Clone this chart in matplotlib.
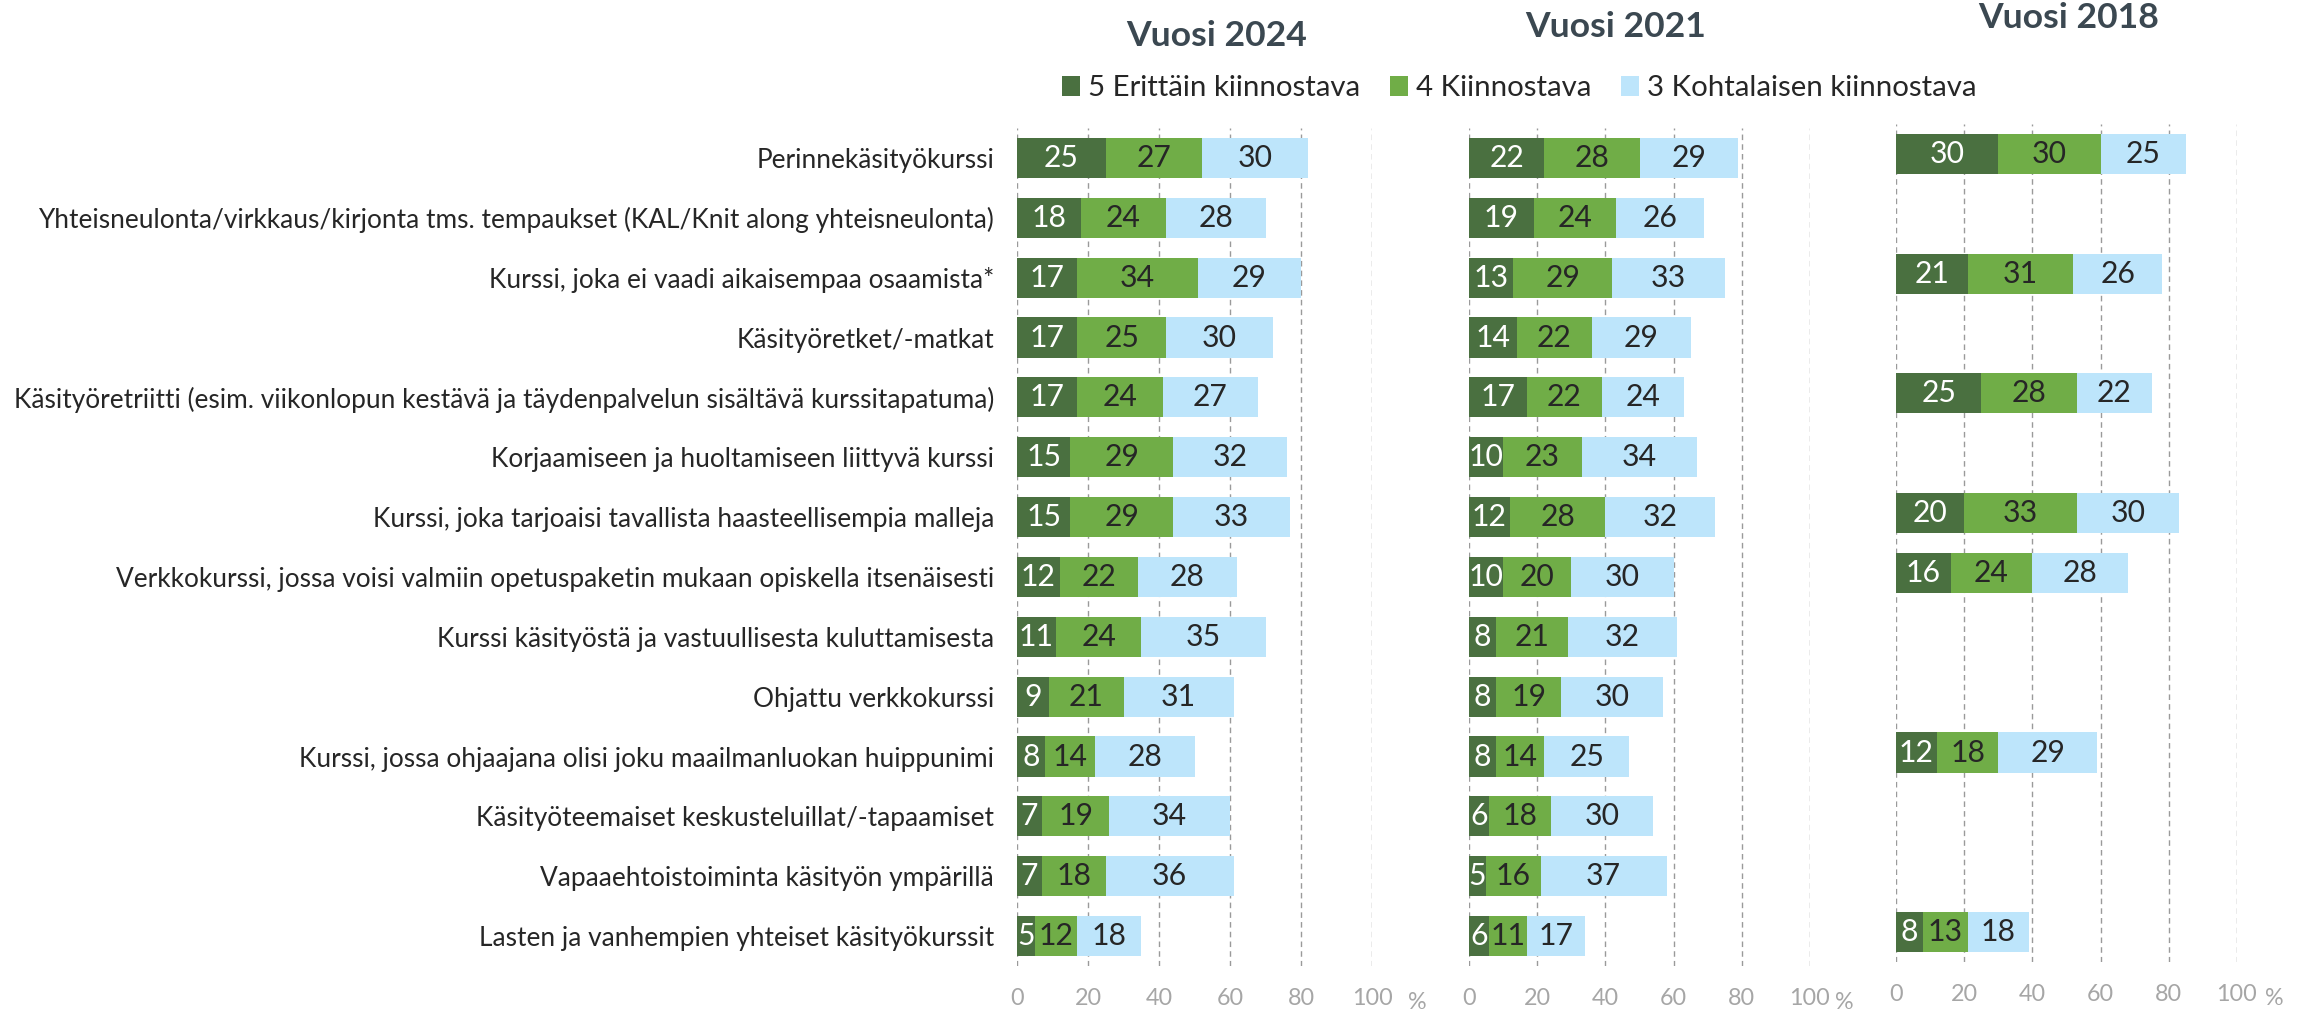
import matplotlib
matplotlib.use("Agg")
import matplotlib.pyplot as plt
from matplotlib.patches import Patch

plt.rcParams['font.family'] = ['Lato', 'DejaVu Sans']

# kategoriat ylhäältä alas
categories = [
    "Perinnekäsityökurssi",
    "Yhteisneulonta/virkkaus/kirjonta tms. tempaukset (KAL/Knit along yhteisneulonta)",
    "Kurssi, joka ei vaadi aikaisempaa osaamista*",
    "Käsityöretket/-matkat",
    "Käsityöretriitti (esim. viikonlopun kestävä ja täydenpalvelun sisältävä kurssitapatuma)",
    "Korjaamiseen ja huoltamiseen liittyvä kurssi",
    "Kurssi, joka tarjoaisi tavallista haasteellisempia malleja",
    "Verkkokurssi, jossa voisi valmiin opetuspaketin mukaan opiskella itsenäisesti",
    "Kurssi käsityöstä ja vastuullisesta kuluttamisesta",
    "Ohjattu verkkokurssi",
    "Kurssi, jossa ohjaajana olisi joku maailmanluokan huippunimi",
    "Käsityöteemaiset keskusteluillat/-tapaamiset",
    "Vapaaehtoistoiminta käsityön ympärillä",
    "Lasten ja vanhempien yhteiset käsityökurssit",
]

series_names = ["5 Erittäin kiinnostava", "4 Kiinnostava", "3 Kohtalaisen kiinnostava"]
xticks = [0, 20, 40, 60, 80, 100]

# vuosi 2024
v2024_5 = [25, 18, 17, 17, 17, 15, 15, 12, 11, 9, 8, 7, 7, 5]
v2024_4 = [27, 24, 34, 25, 24, 29, 29, 22, 24, 21, 14, 19, 18, 12]
v2024_3 = [30, 28, 29, 30, 27, 32, 33, 28, 35, 31, 28, 34, 36, 18]

# vuosi 2021
v2021_5 = [22, 19, 13, 14, 17, 10, 12, 10, 8, 8, 8, 6, 5, 6]
v2021_4 = [28, 24, 29, 22, 22, 23, 28, 20, 21, 19, 14, 18, 16, 11]
v2021_3 = [29, 26, 33, 29, 24, 34, 32, 30, 32, 30, 25, 30, 37, 17]

# vuosi 2018 (None = ei kysytty)
v2018_5 = [30, None, 21, None, 25, None, 20, 16, None, None, 12, None, None, 8]
v2018_4 = [30, None, 31, None, 28, None, 33, 24, None, None, 18, None, None, 13]
v2018_3 = [25, None, 26, None, 22, None, 30, 28, None, None, 29, None, None, 18]

colors = ["#4A7040", "#70AD47", "#BDE5FB"]
text_colors = ["white", "#262626", "#262626"]

W, H = 2308, 1016
fig = plt.figure(figsize=(W / 100, H / 100), dpi=100)
renderer = fig.canvas.get_renderer()


def fit_size(s, target_px, **kw):
    # fonttikoko jolla teksti on halutun levyinen
    t = fig.text(0, 0, s, fontsize=10, **kw)
    w = t.get_window_extent(renderer=renderer).width
    t.remove()
    return 10 * target_px / w


fs_cat = fit_size(categories[4], 976)
fs_leg = fit_size(series_names[0], 272)
fs_tick = fit_size("100", 37) * 1.1
fs_val = fit_size("30", 31) * 1.12
fs_title = fit_size("Vuosi 2024", 171, fontweight='bold') * 1.06

# paneelit: (vasen px, oikea px, ylä px, ala px)
panels = [
    ("Vuosi 2024", [v2024_5, v2024_4, v2024_3], (1017, 1372, 128, 966), 112.7),
    ("Vuosi 2021", [v2021_5, v2021_4, v2021_3], (1469, 1810, 128, 966), 110),
    ("Vuosi 2018", [v2018_5, v2018_4, v2018_3], (1896, 2237, 124, 962), 111),
]
title_pos = [(1217, 36), (1616, 27), (2069, 18)]

for i, (title, data, box, pct_x) in enumerate(panels):
    x0, x1, top, bot = box
    ax = fig.add_axes([x0 / W, 1 - bot / H, (x1 - x0) / W, (bot - top) / H])
    for r in range(len(categories)):
        left = 0
        for s in range(3):
            v = data[s][r]
            if v is None:
                continue
            ax.barh(r, v, left=left, height=0.67, color=colors[s], zorder=3)
            ax.text(left + v / 2, r, str(v), ha='center', va='center',
                    color=text_colors[s], fontsize=fs_val, zorder=4)
            left += v
    ax.set_xlim(0, 100)
    ax.set_ylim(len(categories) - 0.5, -0.5)
    ax.set_xticks(xticks)
    ax.grid(axis='x', color='#9A9A9A', linestyle=(0, (4, 3)), linewidth=1.0, zorder=0)
    for sp in ax.spines.values():
        sp.set_visible(False)
    ax.tick_params(axis='x', length=0, pad=16, labelsize=fs_tick, labelcolor='#A6A6A6')
    ax.tick_params(axis='y', length=0, pad=16.5, labelsize=fs_cat, labelcolor='#262626')
    if i == 0:
        ax.set_yticks(range(len(categories)))
        ax.set_yticklabels(categories)
    else:
        ax.set_yticks([])
    ax.text(pct_x, -0.043, "%", transform=ax.get_xaxis_transform(),
            ha='center', va='center', fontsize=fs_tick, color='#A6A6A6')
    fig.text(title_pos[i][0] / W, 1 - title_pos[i][1] / H, title,
             ha='center', va='center', fontsize=fs_title, fontweight='bold', color='#3B4851')

fs_px = fs_leg * 100 / 72
handles = [Patch(facecolor=c) for c in colors]
fig.legend(handles, series_names, loc='center', bbox_to_anchor=(1519 / W, 1 - 88 / H),
           ncol=3, frameon=False, fontsize=fs_leg, handlelength=18 / fs_px,
           handleheight=20 / fs_px, handletextpad=8 / fs_px, columnspacing=30 / fs_px,
           labelcolor='#262626', borderpad=0)

fig.savefig("out.png", dpi=100)
